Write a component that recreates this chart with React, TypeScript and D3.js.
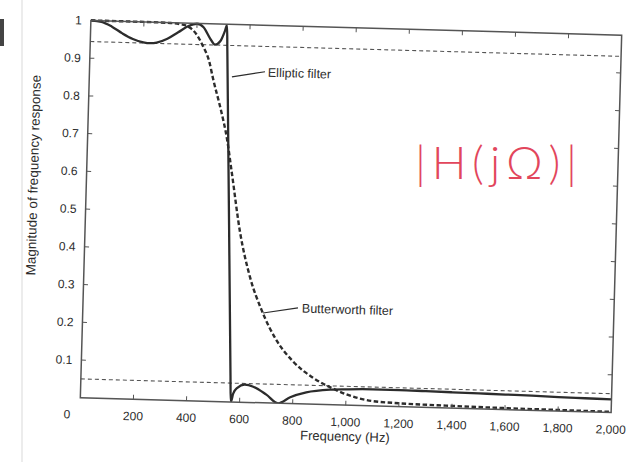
import React from 'react';
import * as d3 from 'd3';

// ---- data ----
const xTickValues = [0, 200, 400, 600, 800, 1000, 1200, 1400, 1600, 1800, 2000];
const xTickLabels = ['', '200', '400', '600', '800', '1,000', '1,200', '1,400', '1,600', '1,800', '2,000'];
const yTickValues = [0.1, 0.2, 0.3, 0.4, 0.5, 0.6, 0.7, 0.8, 0.9, 1];
const yTickLabels = ['0.1', '0.2', '0.3', '0.4', '0.5', '0.6', '0.7', '0.8', '0.9', '1'];
const passbandLevel = 0.944;
const stopbandLevel = 0.05;

const ellipticFreq = [0, 40, 80, 120, 160, 200, 225, 250, 290, 330, 370, 400, 425, 450, 470, 490, 505, 513, 517, 563, 567, 575, 590, 618, 650, 700, 745, 790, 850, 940, 1000, 1100, 1200, 1300, 1400, 1500, 1600, 1700, 1800, 1900, 2000];
const ellipticMag = [1, 0.997, 0.985, 0.968, 0.954, 0.946, 0.944, 0.946, 0.957, 0.975, 0.993, 0.999, 0.99, 0.962, 0.945, 0.955, 0.98, 0.997, 0.93, 0.07, 0, 0.022, 0.038, 0.047, 0.042, 0.022, 0, 0.017, 0.031, 0.04, 0.042, 0.044, 0.044, 0.043, 0.042, 0.041, 0.04, 0.039, 0.037, 0.036, 0.035];

const butterFreq = [0, 200, 300, 350, 380, 400, 425, 450, 466, 500, 524, 546, 584, 627, 673, 734, 797, 874, 950, 1000, 1050, 1100, 1200, 1400, 1600, 1800, 2000];
const butterMag = [1, 1, 0.999, 0.995, 0.985, 0.97, 0.94, 0.9, 0.855, 0.77, 0.7, 0.61, 0.45, 0.33, 0.246, 0.165, 0.112, 0.07, 0.043, 0.029, 0.019, 0.013, 0.009, 0.006, 0.004, 0.003, 0.002];

const xLabel = 'Frequency (Hz)';
const yLabel = 'Magnitude of frequency response';
const ellipticNote = 'Elliptic filter';
const butterNote = 'Butterworth filter';
const handNote = '|H(jΩ)|';

// ---- layout ----
const W = 635;
const H = 462;
const left = 85.5;
const right = 616.5;
const top = 27.75;
const bottom = 405.25;
const rot = 1.6;
const cx = 351;
const cy = 216.5;
const font = '"Liberation Sans", Arial, Helvetica, sans-serif';
const ink = '#2c2c2c';

export default function App() {
  const x = d3.scaleLinear().domain([0, 2000]).range([left, right]);
  const y = d3.scaleLinear().domain([0, 1]).range([bottom, top]);

  const line = d3
    .line<[number, number]>()
    .x((d) => x(d[0]))
    .y((d) => y(d[1]))
    .curve(d3.curveMonotoneX);

  const ell = line(ellipticFreq.map((f, i) => [f, ellipticMag[i]] as [number, number])) || '';
  const but = line(butterFreq.map((f, i) => [f, butterMag[i]] as [number, number])) || '';

  const tick = 4.5;

  return (
    <svg
      width={W}
      height={H}
      viewBox={`0 0 ${W} ${H}`}
      style={{ position: 'absolute', left: 0, top: 0, background: '#fff' }}
    >
      <rect x={0} y={0} width={W} height={H} fill="#fff" />
      {/* scan artifacts */}
      <line x1={22} y1={0} x2={22} y2={H} stroke="#ececec" strokeWidth={2} />
      <rect x={0} y={19} width={4} height={27} fill="#444" />

      <g transform={`rotate(${rot} ${cx} ${cy})`}>
        <defs>
          <clipPath id="plotclip">
            <rect x={left} y={top - 2} width={right - left} height={bottom - top + 2} />
          </clipPath>
        </defs>

        {/* reference levels */}
        <line x1={left} x2={right} y1={y(passbandLevel)} y2={y(passbandLevel)} stroke="#555" strokeWidth={1.1} strokeDasharray="4 3" />
        <line x1={left} x2={right} y1={y(stopbandLevel)} y2={y(stopbandLevel)} stroke="#555" strokeWidth={1.1} strokeDasharray="4 3" />

        {/* curves */}
        <g clipPath="url(#plotclip)">
          <path d={but} fill="none" stroke={ink} strokeWidth={2.4} strokeDasharray="4.5 2.5" />
          <path d={ell} fill="none" stroke={ink} strokeWidth={2.3} strokeLinejoin="round" />
        </g>

        {/* frame */}
        <rect x={left} y={top} width={right - left} height={bottom - top} fill="none" stroke="#555" strokeWidth={1.5} />

        {/* ticks */}
        {xTickValues.slice(1, -1).map((v) => (
          <g key={'xt' + v}>
            <line x1={x(v)} x2={x(v)} y1={bottom} y2={bottom - tick} stroke="#555" strokeWidth={1} />
            <line x1={x(v)} x2={x(v)} y1={top} y2={top + tick} stroke="#555" strokeWidth={1} />
          </g>
        ))}
        {yTickValues.slice(0, -1).map((v) => (
          <g key={'yt' + v}>
            <line x1={left} x2={left + tick} y1={y(v)} y2={y(v)} stroke="#555" strokeWidth={1} />
            <line x1={right} x2={right - tick} y1={y(v)} y2={y(v)} stroke="#555" strokeWidth={1} />
          </g>
        ))}

        {/* tick labels */}
        {xTickValues.map((v, i) =>
          xTickLabels[i] ? (
            <text key={'xl' + v} x={x(v)} y={bottom + 21} textAnchor="middle" fontFamily={font} fontSize={12} fill={ink}>
              {xTickLabels[i]}
            </text>
          ) : null
        )}
        {yTickValues.map((v, i) => (
          <text key={'yl' + v} x={left - 9} y={y(v)} dy="0.35em" textAnchor="end" fontFamily={font} fontSize={12} fill={ink}>
            {yTickLabels[i]}
          </text>
        ))}
        <text x={left - 13} y={bottom + 21} textAnchor="middle" fontFamily={font} fontSize={12} fill={ink}>
          0
        </text>

        {/* axis titles */}
        <text x={351} y={441} textAnchor="middle" fontFamily={font} fontSize={13} fill={ink}>
          {xLabel}
        </text>
        <text
          transform={`translate(37 ${184}) rotate(-90)`}
          textAnchor="middle"
          fontFamily={font}
          fontSize={13.5}
          fill={ink}
        >
          {yLabel}
        </text>

        {/* annotations */}
        <line x1={x(537)} y1={y(0.861)} x2={x(661)} y2={y(0.877)} stroke={ink} strokeWidth={1.2} />
        <text x={x(672)} y={y(0.864)} fontFamily={font} fontSize={12.5} fill={ink}>
          {ellipticNote}
        </text>
        <line x1={x(679)} y1={y(0.238)} x2={x(810)} y2={y(0.254)} stroke={ink} strokeWidth={1.2} />
        <text x={x(825)} y={y(0.242)} fontFamily={font} fontSize={12.5} fill={ink}>
          {butterNote}
        </text>
      </g>

      {/* handwritten note */}
      <text
        x={415}
        y={179}
        fontFamily="Lato, 'Open Sans', sans-serif"
        fontWeight={300}
        fontSize={46}
        fill="#e2465c"
        textLength={162}
        lengthAdjust="spacing"
      >
        {handNote}
      </text>
    </svg>
  );
}
